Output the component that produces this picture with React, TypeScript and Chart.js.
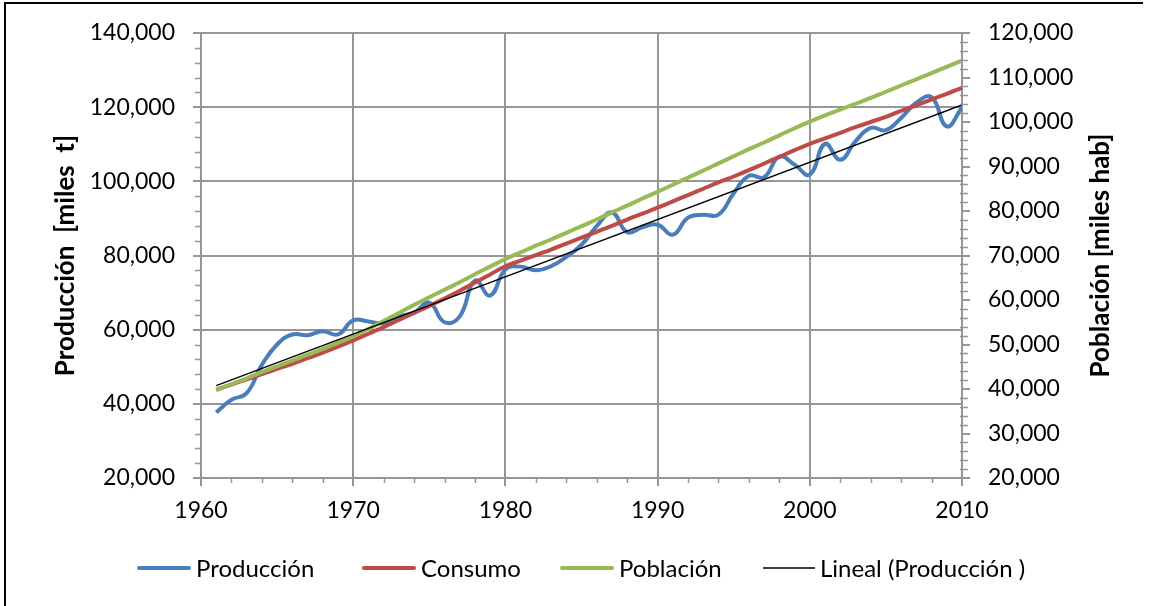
import React, { useEffect, useRef } from 'react';
import { Chart, registerables } from 'chart.js';

Chart.register(...registerables);

// ---- data ----
const years = [
  1961, 1962, 1963, 1964, 1965, 1966, 1967, 1968, 1969, 1970,
  1971, 1972, 1973, 1974, 1975, 1976, 1977, 1978, 1979, 1980,
  1981, 1982, 1983, 1984, 1985, 1986, 1987, 1988, 1989, 1990,
  1991, 1992, 1993, 1994, 1995, 1996, 1997, 1998, 1999, 2000,
  2001, 2002, 2003, 2004, 2005, 2006, 2007, 2008, 2009, 2010,
];

const produccion = [
  37700, 41100, 42900, 50500, 56000, 58700, 58500, 59600, 58700, 62500,
  62200, 61700, 63600, 64600, 67300, 62000, 63600, 73200, 69200, 76200,
  77000, 76000, 77100, 79600, 82900, 87900, 91600, 86300, 87600, 88300,
  85600, 90200, 91000, 91000, 96800, 101500, 101100, 106700, 104500, 101800,
  110100, 105800, 110800, 114400, 113800, 117100, 121200, 122700, 114800, 119900,
];

const consumo = [
  43800, 45200, 46600, 48000, 49400, 50800, 52300, 53800, 55400, 57100,
  58900, 60700, 62600, 64500, 66400, 68400, 70500, 72700, 74900, 77100,
  78600, 80100, 81600, 83200, 84800, 86400, 88000, 89700, 91300, 92900,
  94600, 96300, 98000, 99700, 101300, 103000, 104800, 106600, 108400, 110100,
  111600, 113100, 114600, 116000, 117400, 119000, 120500, 122100, 123600, 125200,
];

const poblacion = [
  39800, 41100, 42400, 43800, 45100, 46400, 47700, 49000, 50400, 51800,
  53500, 55300, 57100, 58900, 60600, 62300, 64000, 65800, 67500, 69200,
  70700, 72200, 73600, 75100, 76600, 78100, 79700, 81200, 82800, 84300,
  85900, 87500, 89100, 90700, 92300, 93900, 95400, 97000, 98600, 100100,
  101500, 102800, 104100, 105400, 106800, 108200, 109600, 111000, 112400, 113800,
];

const trendYears = [1961, 2010];
const trendValues = [44900, 120600];

const seriesLabels = ['Producción', 'Consumo', 'Población', 'Lineal (Producción )'];
const leftTitle = 'Producción  [miles  t]';
const rightTitle = 'Población [miles hab]';

const COLORS = {
  blue: '#4A7EBB',
  red: '#BE4B48',
  green: '#98B954',
  black: '#000000',
  grid: '#969696',
};

const FONT = 'Lato';

const fmt = (v: number) => Number(v).toLocaleString('en-US');

const decorPlugin = {
  id: 'decor',
  afterDraw(chart: any) {
    const ctx = chart.ctx;
    const x = chart.scales.x;
    const y = chart.scales.y;
    const y1 = chart.scales.y1;
    ctx.save();
    // minor ticks
    ctx.strokeStyle = COLORS.grid;
    ctx.lineWidth = 1.5;
    ctx.beginPath();
    for (let v = 1962; v < 2010; v += 2) {
      if (v % 10 === 0) continue;
      const px = Math.round(x.getPixelForValue(v)) + 0.5;
      ctx.moveTo(px, y.bottom);
      ctx.lineTo(px, y.bottom + 5);
    }
    for (let v = 24000; v < 140000; v += 4000) {
      if (v % 20000 === 0) continue;
      const py = Math.round(y.getPixelForValue(v)) + 0.5;
      ctx.moveTo(x.left - 6, py);
      ctx.lineTo(x.left, py);
    }
    for (let v = 22000; v < 120000; v += 2000) {
      if (v % 10000 === 0) continue;
      const py = Math.round(y1.getPixelForValue(v)) + 0.5;
      ctx.moveTo(x.right - 2, py);
      ctx.lineTo(x.right + 6, py);
    }
    ctx.stroke();

    // right axis title, reading bottom-to-top
    ctx.fillStyle = '#000';
    ctx.font = `bold 26px ${FONT}`;
    ctx.textAlign = 'center';
    ctx.textBaseline = 'middle';
    ctx.translate(1101, (y1.top + y1.bottom) / 2);
    ctx.rotate(-Math.PI / 2);
    ctx.fillText(rightTitle, 0, 0);
    ctx.restore();

    // legend
    ctx.save();
    const starts = [137, 362, 560, 763];
    const lens = [54, 54, 54, 52];
    const cols = [COLORS.blue, COLORS.red, COLORS.green, COLORS.black];
    const widths = [4, 4, 4, 1.3];
    const ly = 568;
    ctx.font = `24px ${FONT}`;
    ctx.textAlign = 'left';
    ctx.textBaseline = 'alphabetic';
    ctx.fillStyle = '#000';
    seriesLabels.forEach((lab, i) => {
      ctx.beginPath();
      ctx.strokeStyle = cols[i];
      ctx.lineWidth = widths[i];
      ctx.lineCap = i < 3 ? 'round' : 'butt';
      ctx.moveTo(starts[i] + (i < 3 ? 2 : 0), ly);
      ctx.lineTo(starts[i] + lens[i] - (i < 3 ? 2 : 0), ly);
      ctx.stroke();
      ctx.fillText(lab, starts[i] + lens[i] + 5, 577);
    });

    // outer frame (left and top edges)
    ctx.strokeStyle = '#000';
    ctx.lineWidth = 2;
    ctx.lineCap = 'butt';
    ctx.beginPath();
    ctx.moveTo(5, 606);
    ctx.lineTo(5, 3);
    ctx.lineTo(1143, 3);
    ctx.stroke();
    ctx.restore();
  },
};

export default function App() {
  const ref = useRef<HTMLCanvasElement | null>(null);

  useEffect(() => {
    if (!ref.current) return;
    const toPts = (xs: number[], ys: number[]) => xs.map((xv, i) => ({ x: xv, y: ys[i] }));
    const chart = new Chart(ref.current, {
      type: 'line',
      data: {
        datasets: [
          {
            label: seriesLabels[0],
            data: toPts(years, produccion),
            borderColor: COLORS.blue,
            backgroundColor: COLORS.blue,
            borderWidth: 4,
            pointRadius: 0,
            tension: 0.45,
            yAxisID: 'y',
            order: 3,
          },
          {
            label: seriesLabels[1],
            data: toPts(years, consumo),
            borderColor: COLORS.red,
            backgroundColor: COLORS.red,
            borderWidth: 4,
            pointRadius: 0,
            tension: 0.45,
            yAxisID: 'y',
            order: 2,
          },
          {
            label: seriesLabels[2],
            data: toPts(years, poblacion),
            borderColor: COLORS.green,
            backgroundColor: COLORS.green,
            borderWidth: 4,
            pointRadius: 0,
            tension: 0.45,
            yAxisID: 'y1',
            order: 1,
          },
          {
            label: seriesLabels[3],
            data: toPts(trendYears, trendValues),
            borderColor: COLORS.black,
            backgroundColor: COLORS.black,
            borderWidth: 1.3,
            pointRadius: 0,
            tension: 0,
            yAxisID: 'y',
            order: 0,
          },
        ],
      },
      options: {
        responsive: false,
        animation: false,
        events: [],
        layout: { padding: { top: 33, left: 0, right: 0, bottom: 0 } },
        plugins: {
          legend: { display: false },
          tooltip: { enabled: false },
          title: { display: false },
        },
        scales: {
          x: {
            type: 'linear',
            min: 1960,
            max: 2010,
            ticks: {
              stepSize: 10,
              color: '#000',
              font: { family: FONT, size: 23 },
              padding: 11,
              maxRotation: 0,
              callback: (v: any) => String(v),
            },
            grid: { color: COLORS.grid, lineWidth: 2, tickLength: 8, tickColor: COLORS.grid },
            border: { color: COLORS.grid, width: 2 },
            afterFit: (s: any) => { s.height = 128; },
          },
          y: {
            type: 'linear',
            position: 'left',
            min: 20000,
            max: 140000,
            ticks: {
              stepSize: 20000,
              color: '#000',
              font: { family: FONT, size: 23 },
              padding: 18,
              callback: (v: any) => fmt(v),
            },
            grid: { color: COLORS.grid, lineWidth: 2, tickLength: 8, tickColor: COLORS.grid },
            border: { color: COLORS.grid, width: 2 },
            title: {
              display: true,
              text: leftTitle,
              color: '#000',
              font: { family: FONT, size: 26, weight: 'bold' },
              padding: { top: 50, bottom: 0 },
            },
            afterFit: (s: any) => { s.width = 201; },
          },
          y1: {
            type: 'linear',
            position: 'right',
            min: 20000,
            max: 120000,
            ticks: {
              stepSize: 10000,
              color: '#000',
              font: { family: FONT, size: 23 },
              padding: 18,
              callback: (v: any) => fmt(v),
            },
            grid: { drawOnChartArea: false, color: COLORS.grid, lineWidth: 2, tickLength: 8, tickColor: COLORS.grid },
            border: { color: COLORS.grid, width: 2 },
            afterFit: (s: any) => { s.width = 191; },
          },
        },
      },
      plugins: [decorPlugin],
    } as any);
    return () => chart.destroy();
  }, []);

  return (
    <div style={{ position: 'absolute', left: 0, top: 0, width: 1153, height: 606, background: '#fff' }}>
      <canvas ref={ref} width={1153} height={606} style={{ display: 'block' }} />
    </div>
  );
}
